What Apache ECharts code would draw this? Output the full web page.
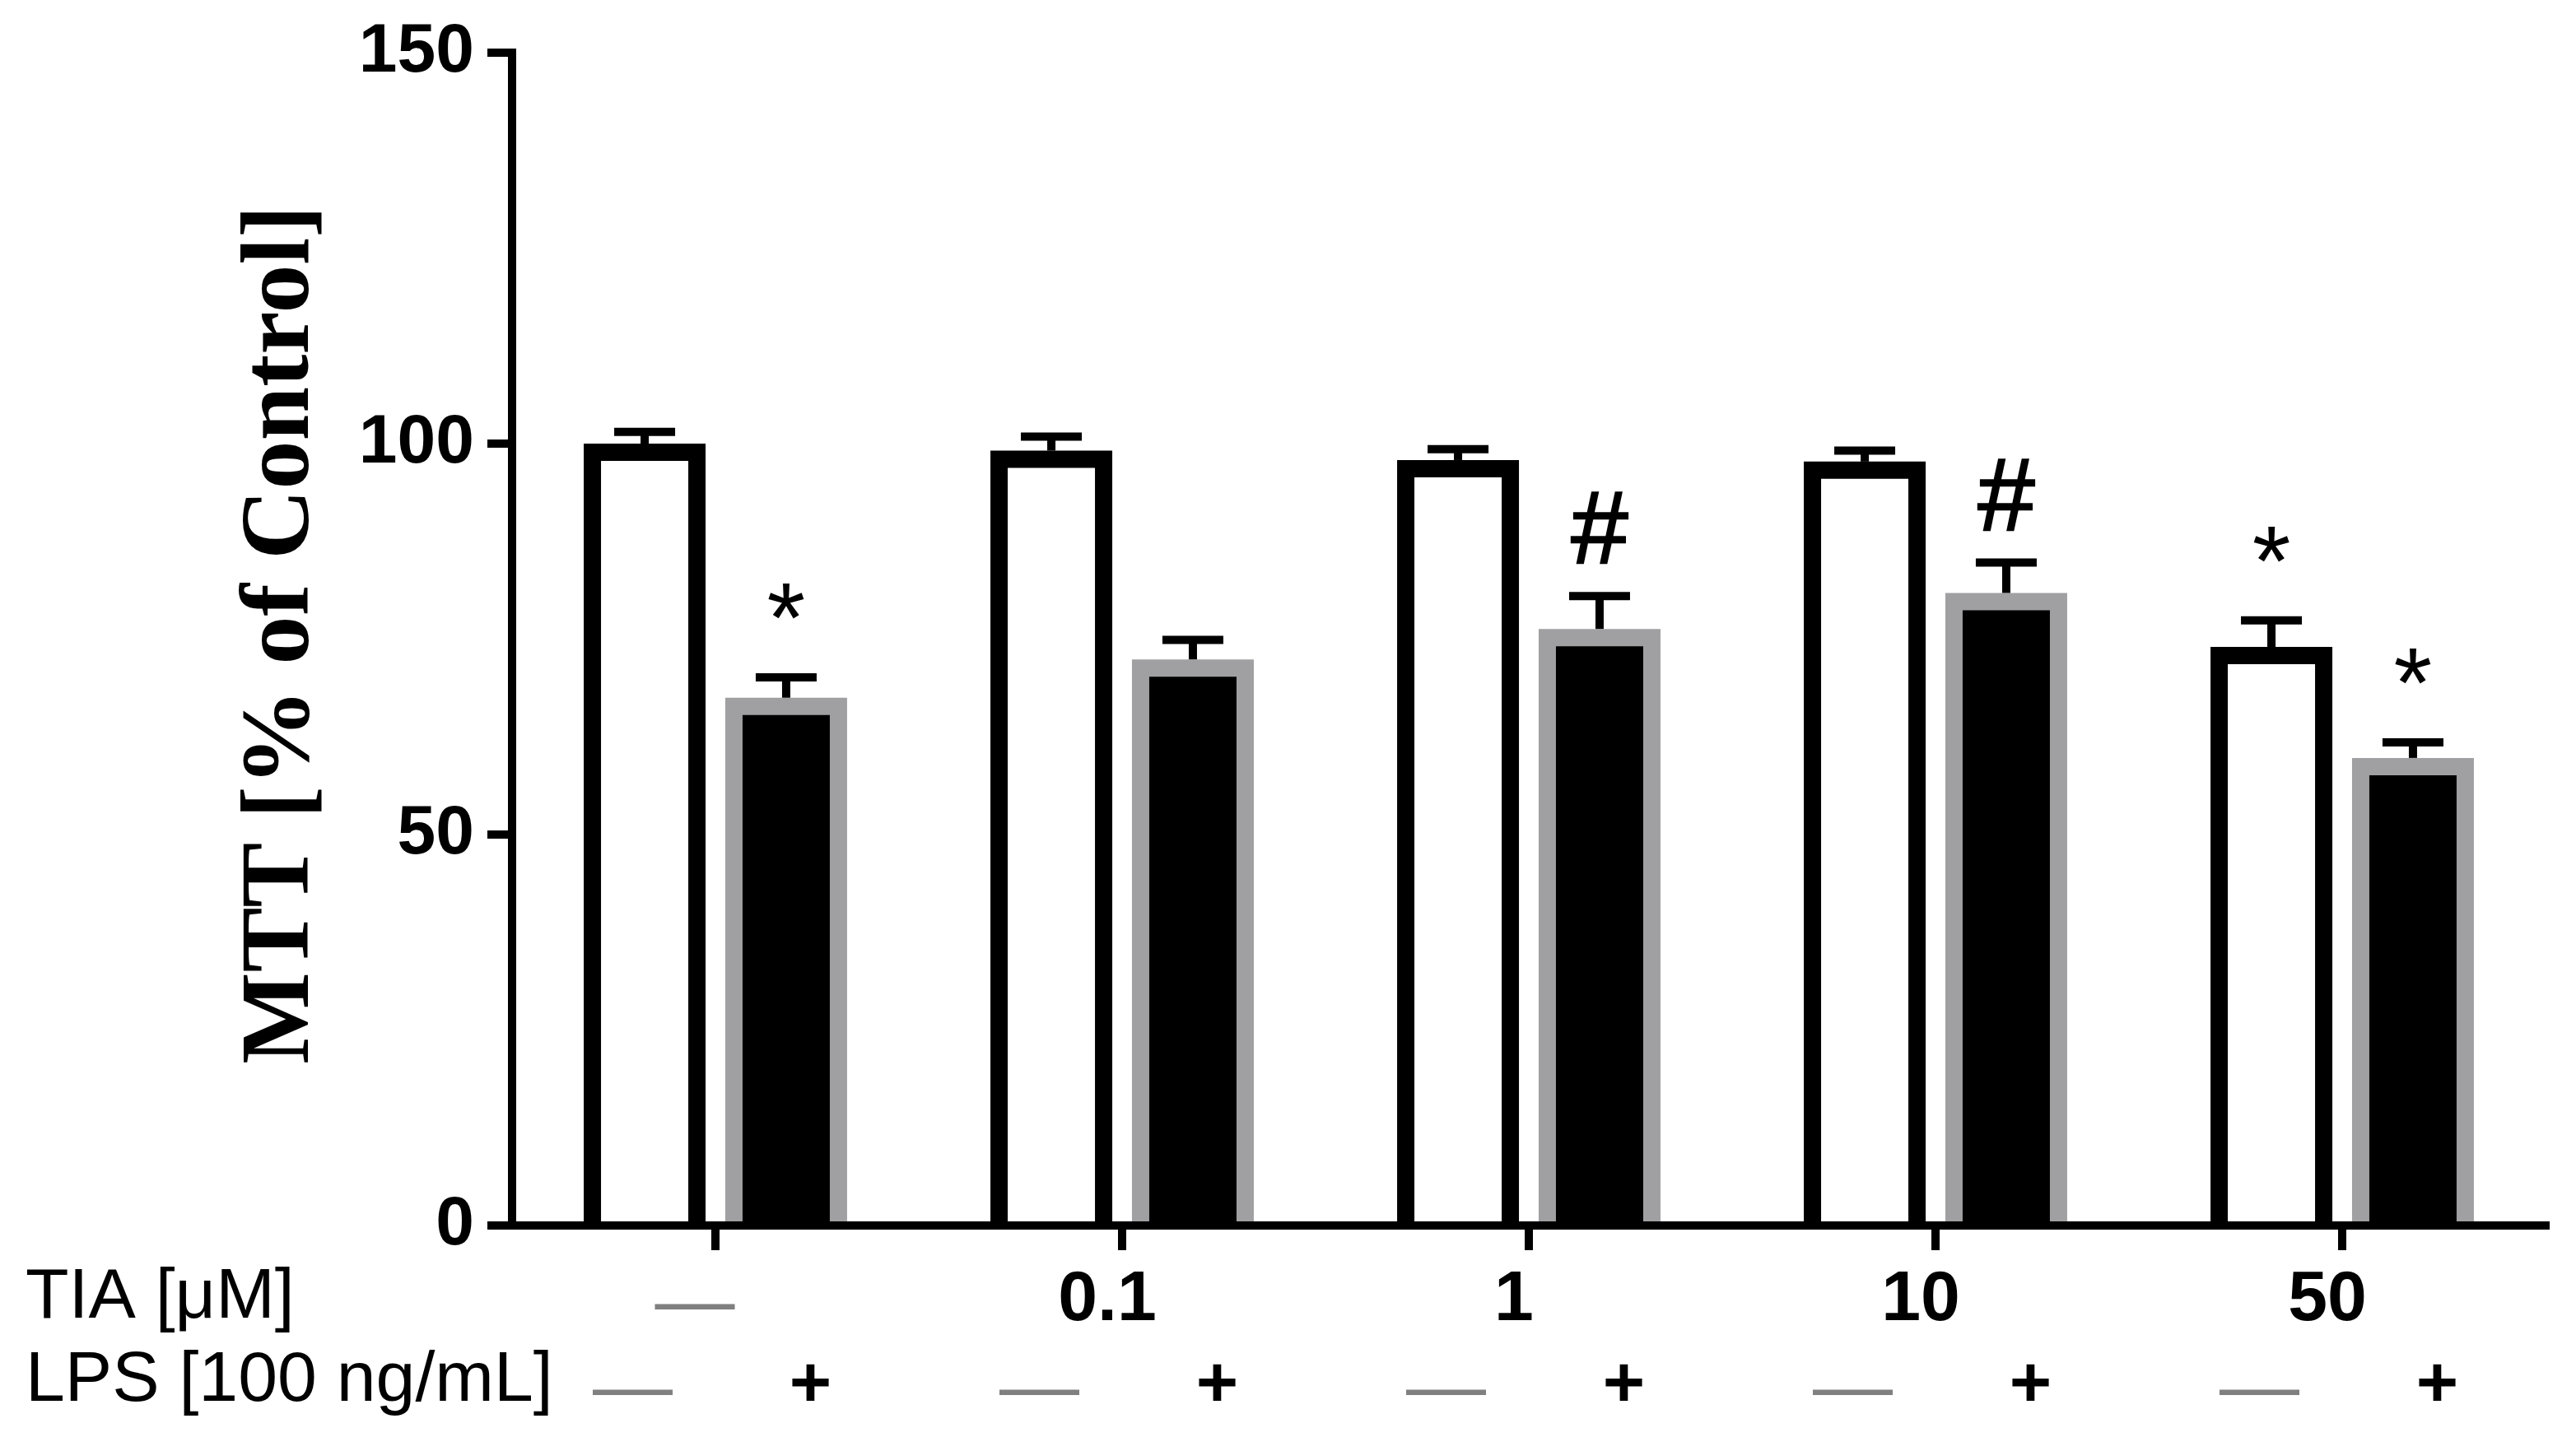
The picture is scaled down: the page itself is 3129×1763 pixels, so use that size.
<!DOCTYPE html>
<html>
<head>
<meta charset="utf-8">
<script src="https://cdn.jsdelivr.net/npm/echarts@6/dist/echarts.min.js"></script>
<style>
html,body{margin:0;padding:0;background:#fff;}
#chart{width:3129px;height:1763px;}
</style>
</head>
<body>
<div id="chart"></div>
<script>
// ---- data ----
const tiaLabels = ['—', '0.1', '1', '10', '50'];
const lpsLabels = ['—', '+', '—', '+', '—', '+', '—', '+', '—', '+'];
const controlMTT = [100, 99.1, 97.9, 97.7, 74.0];
const controlSEM = [1.5, 1.8, 1.4, 1.4, 3.4];
const lpsMTT = [67.5, 72.4, 76.3, 80.9, 59.8];
const lpsSEM = [2.6, 2.5, 4.2, 3.9, 2.0];
const controlMarks = ['', '', '', '', '*'];
const lpsMarks = ['*', '', '#', '#', '*'];
const yTicks = {min: 0, max: 150, interval: 50};

const chart = echarts.init(document.getElementById('chart'), null, {renderer: 'canvas'});

function barRenderer(fillColor, borderColor, side, marks) {
  return function (params, api) {
    const i = api.value(0), v = api.value(1), sem = api.value(2);
    const catW = api.size([1, 0])[0];
    const base = api.coord([i, 0]);
    const cx = base[0] + side * catW * 0.174;
    const y0 = base[1];
    const yTop = api.coord([i, v])[1];
    const yCap = api.coord([i, v + sem])[1];
    const w = catW * 0.2996;
    const b = 21;
    const children = [
      {type: 'rect', shape: {x: cx - w / 2, y: yTop, width: w, height: y0 - yTop}, style: {fill: borderColor}},
      {type: 'rect', shape: {x: cx - w / 2 + b, y: yTop + b, width: w - 2 * b, height: y0 - yTop - b}, style: {fill: fillColor}},
      {type: 'rect', shape: {x: cx - 5, y: yCap, width: 10, height: yTop - yCap}, style: {fill: '#000'}},
      {type: 'rect', shape: {x: cx - 37, y: yCap - 5, width: 74, height: 10}, style: {fill: '#000'}}
    ];
    const m = marks[params.dataIndex];
    if (m) {
      const isStar = m === '*';
      const gy = yCap - (isStar ? 92 : 74);
      children.push({
        type: 'text',
        style: {
          text: m, x: cx, y: gy + (isStar ? 28 : 0),
          fill: '#000', fontSize: isStar ? 120 : 124, fontFamily: 'Liberation Sans',
          stroke: isStar ? null : '#000', lineWidth: isStar ? 0 : 2.5,
          align: 'center', verticalAlign: 'middle'
        }
      });
    }
    return {type: 'group', children: children};
  };
}

const option = {
  animation: false,
  backgroundColor: '#ffffff',
  grid: {left: 622, right: 37, top: 64, bottom: 274, containLabel: false},
  xAxis: [
    {
      type: 'category', data: tiaLabels, position: 'bottom', z: 10, boundaryGap: true,
      axisLine: {show: true, onZero: false, lineStyle: {color: '#000', width: 10, cap: 'square'}},
      axisTick: {show: true, alignWithLabel: true, length: 30, lineStyle: {color: '#000', width: 10}},
      splitLine: {show: false},
      axisLabel: {
        interval: 0, margin: 48,
        formatter: function (v) { return v === '—' ? '{d|—}' : '{n|' + v + '}'; },
        rich: {
          n: {fontSize: 86, fontWeight: 'bold', fontFamily: 'Liberation Sans', color: '#000', padding: [0, 36, 0, 0]},
          d: {fontSize: 97, fontFamily: 'Liberation Sans', color: '#808080', padding: [0, 50, 0, 0]}
        }
      }
    },
    {
      type: 'category', data: lpsLabels, position: 'bottom', offset: 0, boundaryGap: true,
      axisLine: {show: false}, axisTick: {show: false}, splitLine: {show: false},
      axisLabel: {
        interval: 0, margin: 152,
        formatter: function (v) { return v === '+' ? '{p|+}' : '{d|—}'; },
        rich: {
          p: {fontSize: 88, fontWeight: 'bold', fontFamily: 'Liberation Sans', color: '#000', padding: [0, 16, 0, 0]},
          d: {fontSize: 97, fontFamily: 'Liberation Sans', color: '#808080', padding: [0, 0, 0, 46]}
        }
      }
    }
  ],
  yAxis: {
    type: 'value', min: yTicks.min, max: yTicks.max, interval: yTicks.interval, z: 10,
    axisLine: {show: true, lineStyle: {color: '#000', width: 10, cap: 'square'}},
    axisTick: {show: true, length: 30, lineStyle: {color: '#000', width: 10}},
    splitLine: {show: false},
    axisLabel: {margin: 46, color: '#000', fontSize: 84, fontWeight: 'bold', fontFamily: 'Liberation Sans'}
  },
  graphic: [
    {
      type: 'text', x: 344, y: 771, rotation: Math.PI / 2,
      style: {text: 'MTT [% of Control]', fill: '#000', fontSize: 118, fontWeight: 'bold',
        fontFamily: 'Liberation Serif', align: 'center', verticalAlign: 'middle'}
    },
    {
      type: 'text', x: 31, y: 1577,
      style: {text: 'TIA [μM]', fill: '#000', fontSize: 86, fontFamily: 'Liberation Sans',
        align: 'left', verticalAlign: 'middle'}
    },
    {
      type: 'text', x: 31, y: 1678,
      style: {text: 'LPS [100 ng/mL]', fill: '#000', fontSize: 86, fontFamily: 'Liberation Sans',
        align: 'left', verticalAlign: 'middle'}
    }
  ],
  series: [
    {
      name: 'Control', type: 'custom', xAxisIndex: 0, yAxisIndex: 0,
      encode: {x: 0, y: 1},
      data: controlMTT.map(function (v, i) { return [i, v, controlSEM[i]]; }),
      renderItem: barRenderer('#ffffff', '#000000', -1, controlMarks)
    },
    {
      name: 'LPS', type: 'custom', xAxisIndex: 0, yAxisIndex: 0,
      encode: {x: 0, y: 1},
      data: lpsMTT.map(function (v, i) { return [i, v, lpsSEM[i]]; }),
      renderItem: barRenderer('#000000', '#a0a0a2', 1, lpsMarks)
    }
  ]
};
chart.setOption(option);
</script>
</body>
</html>
